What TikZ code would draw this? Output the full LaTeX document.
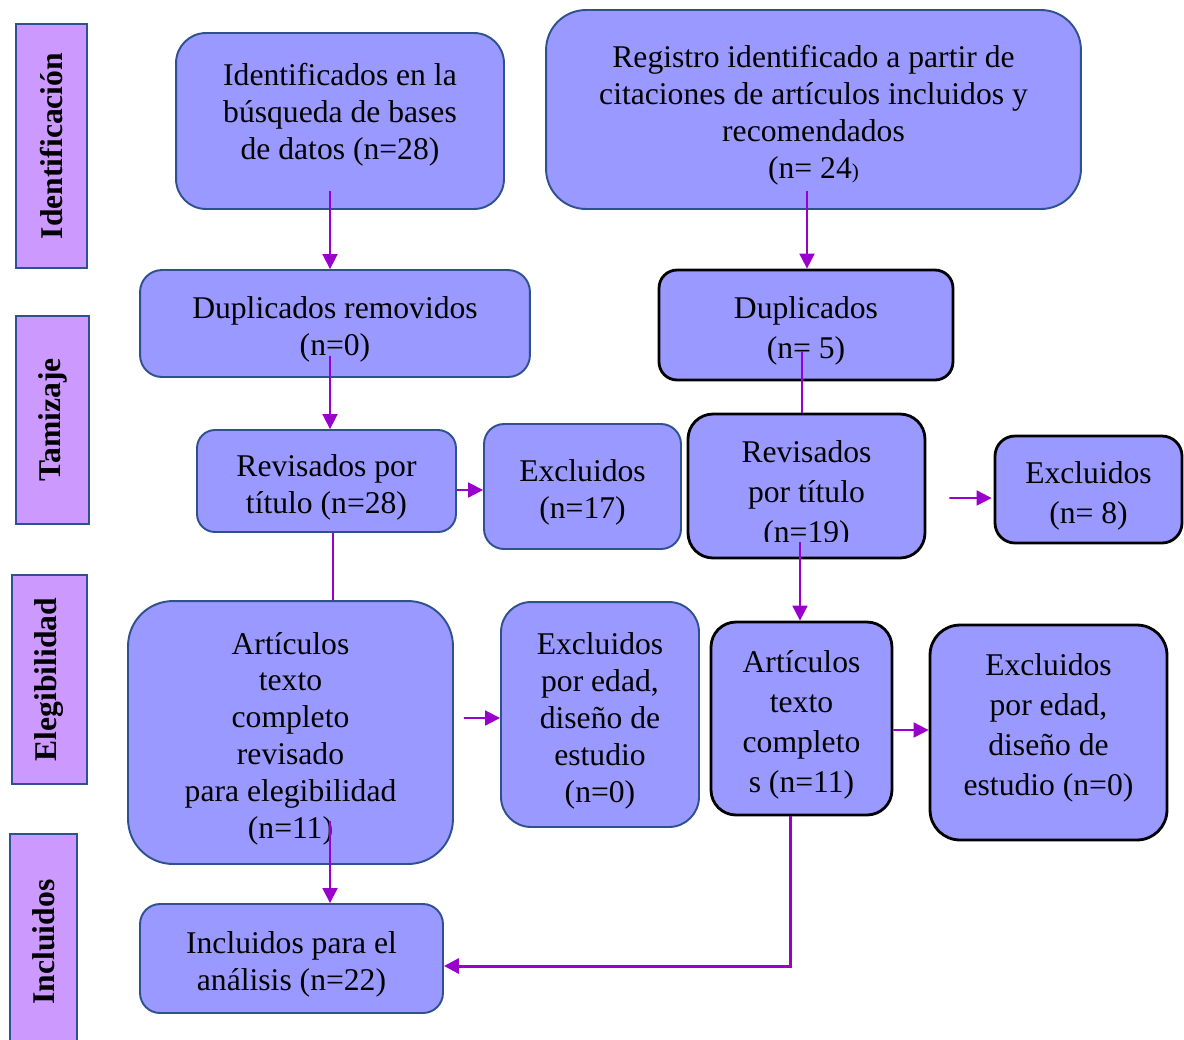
\documentclass[tikz,border=0pt]{standalone}
\usepackage{fontspec}
\setmainfont{Liberation Serif}
\usetikzlibrary{arrows.meta}
\definecolor{boxfill}{RGB}{153,153,255}
\definecolor{stagefill}{RGB}{204,153,255}
\definecolor{boxline}{RGB}{47,82,143}
\definecolor{arrowpurple}{RGB}{153,0,204}
\newcommand{\toppad}{\rule{0pt}{19.5pt}} % pushes a box text a bit down
\tikzset{x=0.02cm, y=-0.02cm, % one unit = one pixel of the layout
box/.style={ % Sets the properties for each box
draw=boxline,
fill=boxfill,
line width=1.1pt,
inner sep=0pt,
align=center,
font=\fontsize{18}{21}\selectfont},
darkbox/.style={ % Boxes with a black border
box,
draw=black,
line width=1.6pt,
font=\fontsize{18}{22.8}\selectfont},
stage/.style={ % Phase labels on the left
draw=boxline,
fill=stagefill,
line width=1.4pt,
rotate=90,
inner sep=0pt,
font=\fontsize{18}{21}\selectfont\bfseries},
every edge/.style={ % Sets the properties for each connector
draw,
arrowpurple,
line width=1.1pt,
-{Triangle[length=8.5pt,width=8.5pt]}},
plain/.style={-}}

\begin{document}
\begin{tikzpicture}
\useasboundingbox (0,0) rectangle (1184,1039);
% phase labels
\node[stage, minimum width=4.88cm, minimum height=1.42cm] (ident) at (51.5,146) {Identificación};
\node[stage, minimum width=4.16cm, minimum height=1.46cm] (tamiz) at (52.5,420) {Tamizaje};
\node[stage, minimum width=4.18cm, minimum height=1.5cm] (eleg) at (49.5,679.5) {Elegibilidad};
\node[stage, minimum width=4.32cm, minimum height=1.34cm] (incl) at (43.5,942) {Incluidos};
% left column
\node[box, rounded corners=0.6cm, minimum width=6.56cm, minimum height=3.52cm,
  execute at end node={\rule[-11pt]{0pt}{0pt}}] (bases) at (340,121)
  {Identificados en la\\búsqueda de bases\\de datos (n=28)};
\node[box, rounded corners=0.44cm, minimum width=7.8cm, minimum height=2.14cm] (dupl) at (335,323.5)
  {\toppad Duplicados removidos\\(n=0)};
\node[box, rounded corners=0.36cm, minimum width=5.18cm, minimum height=2.04cm] (revl) at (326.5,481)
  {\toppad Revisados por\\título (n=28)};
\node[box, rounded corners=0.4cm, minimum width=3.94cm, minimum height=2.5cm] (excl) at (582.5,486.5)
  {\toppad Excluidos\\(n=17)};
\node[box, rounded corners=0.9cm, minimum width=6.5cm, minimum height=5.26cm] (artl) at (290.5,732.5)
  {\toppad Artículos\\texto\\completo\\revisado\\para elegibilidad\\(n=11)};
\node[box, rounded corners=0.6cm, minimum width=3.96cm, minimum height=4.5cm] (edadl) at (600,714.5)
  {\toppad Excluidos\\por edad,\\diseño de\\estudio\\(n=0)};
\node[box, rounded corners=0.4cm, minimum width=6.06cm, minimum height=2.18cm] (incluidos) at (291.5,958.5)
  {\toppad Incluidos para el\\análisis (n=22)};
% right column
\node[box, rounded corners=0.8cm, minimum width=10.7cm, minimum height=3.98cm] (citas) at (813.5,109.5)
  {\toppad Registro identificado a partir de\\citaciones de artículos incluidos y\\recomendados\\(n= 24\fontsize{12}{14}\selectfont)};
\node[darkbox, rounded corners=0.36cm, minimum width=5.88cm, minimum height=2.2cm] (dupr) at (806,325)
  {\toppad Duplicados\\(n= 5)};
\node[darkbox, rounded corners=0.5cm, minimum width=4.74cm, minimum height=2.88cm] (revr) at (806.5,486) {};
\begin{scope} % the text of this box is cut off at the bottom
\clip (revr.north west) rectangle ([shift={(0,-18)}]revr.south east);
\node[font=\fontsize{18}{22.8}\selectfont, align=center, inner sep=0pt] (revrtext) at (revr)
  {\rule{0pt}{23pt}Revisados\\por título\\(n=19)};
\end{scope}
\node[darkbox, rounded corners=0.4cm, minimum width=3.74cm, minimum height=2.14cm] (excr) at (1088.5,489.5)
  {\toppad Excluidos\\(n= 8)};
\node[darkbox, rounded corners=0.5cm, minimum width=3.62cm, minimum height=3.86cm] (artr) at (801.5,718.5)
  {\toppad Artículos\\texto\\completo\\s (n=11)};
\node[darkbox, rounded corners=0.6cm, minimum width=4.74cm, minimum height=4.3cm,
  execute at end node={\rule[-9pt]{0pt}{0pt}}] (edadr) at (1048.5,732.5)
  {Excluidos\\por edad,\\diseño de\\estudio (n=0)};
% connectors
\draw ([shift={(-10,-19)}]bases.south) edge ([shift={(-5,0)}]dupl.north)
      ([shift={(-6.5,-19)}]citas.south) edge ([shift={(1,0)}]dupr.north)
      ([shift={(-5,-22)}]dupl.south) edge ([shift={(3.5,0)}]revl.north)
      ([shift={(-4,-30)}]dupr.south) edge[plain] ([shift={(-4.5,0)}]revr.north)
      ([shift={(0,9)}]revl.east) edge ([shift={(0,3.5)}]excl.west)
      ([shift={(23,12)}]revr.east) edge ([shift={(-2,8.5)}]excr.west)
      ([shift={(6.5,0)}]revl.south) edge[plain] ([shift={(42.5,0)}]artl.north)
      ([shift={(-6.5,-17)}]revr.south) edge ([shift={(-1.5,0)}]artr.north)
      ([shift={(10,-14.5)}]artl.east) edge ([shift={(0,3.5)}]edadl.west)
      ([shift={(0,11.5)}]artr.east) edge ([shift={(0,-2.5)}]edadr.west)
      ([shift={(39.5,-44)}]artl.south) edge ([shift={(38.5,0)}]incluidos.north)
      ([shift={(-11.5,0)}]artr.south) edge[line width=1.7pt, to path={|- (\tikztotarget)}] ([shift={(0,7.5)}]incluidos.east);
\end{tikzpicture}
\end{document}
